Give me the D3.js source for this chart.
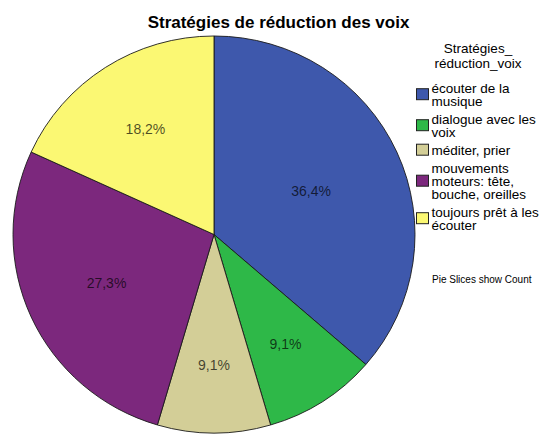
<!DOCTYPE html>
<html>
<head>
<meta charset="utf-8">
<script src="https://cdn.jsdelivr.net/npm/d3@7"></script>
<style>
  html, body { margin: 0; padding: 0; background: #fff; }
  svg { display: block; font-family: "Liberation Sans", Arial, sans-serif; }
</style>
</head>
<body>
<svg id="chart" width="547" height="437"></svg>
<script>
const chartTitle = "Stratégies de réduction des voix";
const legendTitle = ["Stratégies_", "réduction_voix"];
const categories = [
  "écouter de la musique",
  "dialogue avec les voix",
  "méditer, prier",
  "mouvements moteurs: tête, bouche, oreilles",
  "toujours prêt à les écouter"
];
const counts = [4, 1, 1, 3, 2];
const colors = ["#3E58AC", "#2EB848", "#D3CE97", "#7C287D", "#FBF873"];
const footnote = "Pie Slices show Count";

const svg = d3.select("#chart");
const W = 547, H = 437;
const cx = 214, cy = 234.5, r = 201;
const yScale = 198.5 / 201;

const total = d3.sum(counts);
const data = categories.map((c, i) => ({ cat: c, value: counts[i], color: colors[i] }));

const pie = d3.pie().value(d => d.value).sort(null);
const arcs = pie(data);
const arc = d3.arc().innerRadius(0).outerRadius(r);

// title
svg.append("text")
  .attr("x", 278.5).attr("y", 28)
  .attr("text-anchor", "middle")
  .attr("font-size", 17).attr("font-weight", "bold")
  .attr("fill", "#000")
  .text(chartTitle);

const g = svg.append("g").attr("transform", `translate(${cx},${cy}) scale(1,${yScale})`);
g.selectAll("path.slice").data(arcs).join("path")
  .attr("class", "slice")
  .attr("d", arc)
  .attr("fill", d => d.data.color)
  .attr("stroke", "#1a1a1a")
  .attr("stroke-width", 0.9);

// labels at sector centroid
const fmt = v => (Math.round(v * 1000) / 10).toFixed(1).replace(".", ",") + "%";
const lg = svg.append("g").attr("transform", `translate(${cx},${cy})`);
lg.selectAll("text").data(arcs).join("text")
  .attr("text-anchor", "middle")
  .attr("font-size", 14)
  .attr("fill", "#000")
  .attr("fill-opacity", 0.7)
  .attr("x", d => {
    const a = d.endAngle - d.startAngle, m = (d.startAngle + d.endAngle) / 2;
    const dist = 4 * r * Math.sin(a / 2) / (3 * a);
    return dist * Math.sin(m);
  })
  .attr("y", d => {
    const a = d.endAngle - d.startAngle, m = (d.startAngle + d.endAngle) / 2;
    const dist = 4 * r * Math.sin(a / 2) / (3 * a);
    return -dist * Math.cos(m) * yScale + 5;
  })
  .text(d => fmt(d.data.value / total));

// legend
const leg = svg.append("g");
legendTitle.forEach((t, i) => {
  leg.append("text")
    .attr("x", 478).attr("y", 53 + i * 15)
    .attr("text-anchor", "middle")
    .attr("font-size", 13.5).attr("fill", "#000")
    .text(t);
});

// wrap legend labels by measured width
const measure = svg.append("text").attr("font-size", 13.5).attr("visibility", "hidden");
function wrap(str, maxW) {
  const words = str.split(" ");
  const lines = [];
  let cur = "";
  words.forEach(w => {
    const test = cur ? cur + " " + w : w;
    measure.text(test);
    if (measure.node().getComputedTextLength() > maxW && cur) {
      lines.push(cur); cur = w;
    } else cur = test;
  });
  if (cur) lines.push(cur);
  return lines;
}

const lineH = 13, itemGap = 18;
let baseline = 92.7;
data.forEach((d, i) => {
  const lines = wrap(d.cat, 114);
  const first = baseline;
  const last = baseline + (lines.length - 1) * lineH;
  const blockCenter = ((first - 9) + (last + 3)) / 2 - 2;
  leg.append("rect")
    .attr("x", 416.5).attr("y", blockCenter - 5.5)
    .attr("width", 12).attr("height", 11)
    .attr("fill", d.color)
    .attr("stroke", "#222").attr("stroke-width", 1);
  lines.forEach((ln, j) => {
    leg.append("text")
      .attr("x", 431.5).attr("y", first + j * lineH)
      .attr("font-size", 13.5).attr("fill", "#000")
      .text(ln);
  });
  baseline = last + itemGap;
});
measure.remove();

svg.append("text")
  .attr("x", 432).attr("y", 283)
  .attr("font-size", 10).attr("fill", "#000")
  .text(footnote);
</script>
</body>
</html>
